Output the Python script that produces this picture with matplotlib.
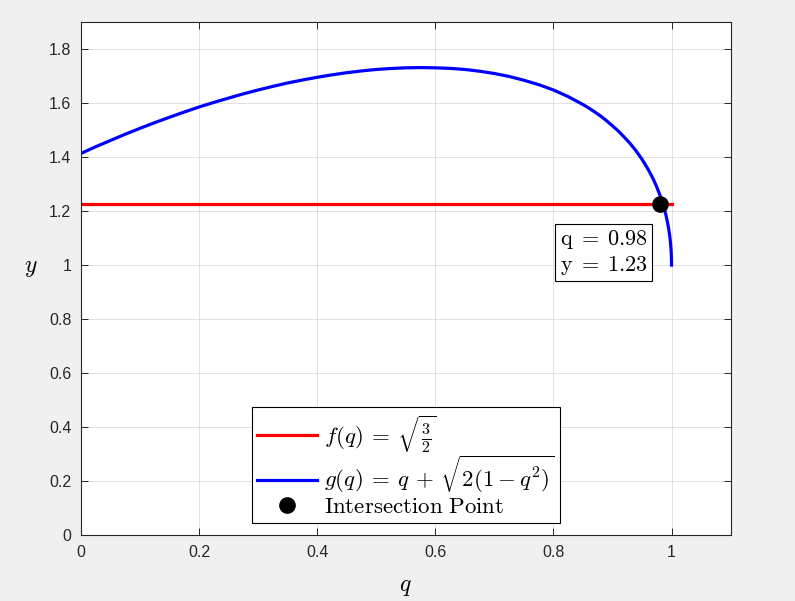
import matplotlib
matplotlib.use("Agg")
import matplotlib.pyplot as plt

plt.rcParams["font.family"] = ["Liberation Sans", "DejaVu Sans"]
plt.rcParams["mathtext.fontset"] = "cm"

# values
q_vals = [0.0, 0.025, 0.05, 0.075, 0.1, 0.125, 0.15, 0.175, 0.2, 0.225, 0.25,
          0.275, 0.3, 0.325, 0.35, 0.375, 0.4, 0.425, 0.45, 0.475, 0.5, 0.525,
          0.55, 0.575, 0.6, 0.625, 0.65, 0.675, 0.7, 0.725, 0.75, 0.775, 0.8,
          0.825, 0.85, 0.86, 0.87, 0.88, 0.89, 0.9, 0.91, 0.92, 0.93, 0.94,
          0.95, 0.96, 0.965, 0.97, 0.975, 0.98, 0.985, 0.99, 0.9925, 0.995,
          0.997, 0.998, 0.999, 0.9995, 0.9999, 1.0]
g_vals = [1.414, 1.4388, 1.462, 1.4852, 1.507, 1.5281, 1.548, 1.5674, 1.586,
          1.6030, 1.619, 1.6347, 1.649, 1.6624, 1.675, 1.6860, 1.696, 1.7051,
          1.713, 1.7195, 1.725, 1.7286, 1.731, 1.7320, 1.731, 1.7290, 1.725,
          1.7184, 1.710, 1.6990, 1.685, 1.6687, 1.649, 1.6242, 1.595, 1.5817,
          1.5673, 1.552, 1.5348, 1.516, 1.4963, 1.474, 1.450, 1.423, 1.392,
          1.356, 1.3359, 1.314, 1.2892, 1.261, 1.229, 1.190, 1.1654, 1.136,
          1.1065, 1.087, 1.062, 1.044, 1.0199, 1.0]
f_q = [0.0, 1.0]
f_vals = [1.2247, 1.2247]
q_int, y_int = 0.98, 1.2247
x_ticks = [0, 0.2, 0.4, 0.6, 0.8, 1]
x_ticklabels = ["0", "0.2", "0.4", "0.6", "0.8", "1"]
y_ticks = [0, 0.2, 0.4, 0.6, 0.8, 1, 1.2, 1.4, 1.6, 1.8]
y_ticklabels = ["0", "0.2", "0.4", "0.6", "0.8", "1", "1.2", "1.4", "1.6", "1.8"]

fig = plt.figure(figsize=(7.95, 6.01), dpi=100, facecolor="#f0f0f0")
ax = fig.add_axes([0.102, 0.110, 0.817, 0.853])
ax.set_facecolor("white")

ax.plot(f_q, f_vals, color="red", lw=2.3, label=r"$f(q)\:=\:\sqrt{\frac{3}{2}}$")
ax.plot(q_vals, g_vals, color="blue", lw=2.3, solid_joinstyle="round",
        label=r"$g(q)\:=\:q\,+\,\sqrt{2(1-q^2)}$")
ax.plot([q_int], [y_int], "o", color="black", ms=11, label=r"$\mathrm{Intersection\ Point}$")

ax.text(0.885, 1.047, r"$\mathrm{q}\;=\;0.98$" + "\n" + r"$\mathrm{y}\;=\;1.23$",
        fontsize=16, ha="center", va="center", linespacing=1.15,
        bbox=dict(boxstyle="square,pad=0.2", fc="white", ec="black", lw=0.8))

ax.set_xlim(0, 1.1)
ax.set_ylim(0, 1.9)
ax.set_xticks(x_ticks)
ax.set_xticklabels(x_ticklabels)
ax.set_yticks(y_ticks)
ax.set_yticklabels(y_ticklabels)
ax.tick_params(direction="in", top=True, right=True, length=5, width=0.7,
               labelsize=11.5, colors="#262626", pad=7)
ax.grid(True, color="#dcdcdc", lw=0.6)
ax.set_axisbelow(True)
for s in ax.spines.values():
    s.set_color("#262626")
    s.set_linewidth(0.8)

ax.set_xlabel(r"$q$", fontsize=17, labelpad=12)
ax.set_ylabel(r"$y$", fontsize=17, rotation=0)
ax.yaxis.set_label_coords(-0.078, 0.5)

leg = ax.legend(loc="lower center", bbox_to_anchor=(0.5, 0.0), fontsize=16.5,
                handlelength=2.6, handletextpad=0.3, borderpad=0.25,
                labelspacing=-0.05, fancybox=False, framealpha=1, edgecolor="black")
leg.get_frame().set_linewidth(0.8)

fig.savefig("out.png", dpi=100, facecolor=fig.get_facecolor())
